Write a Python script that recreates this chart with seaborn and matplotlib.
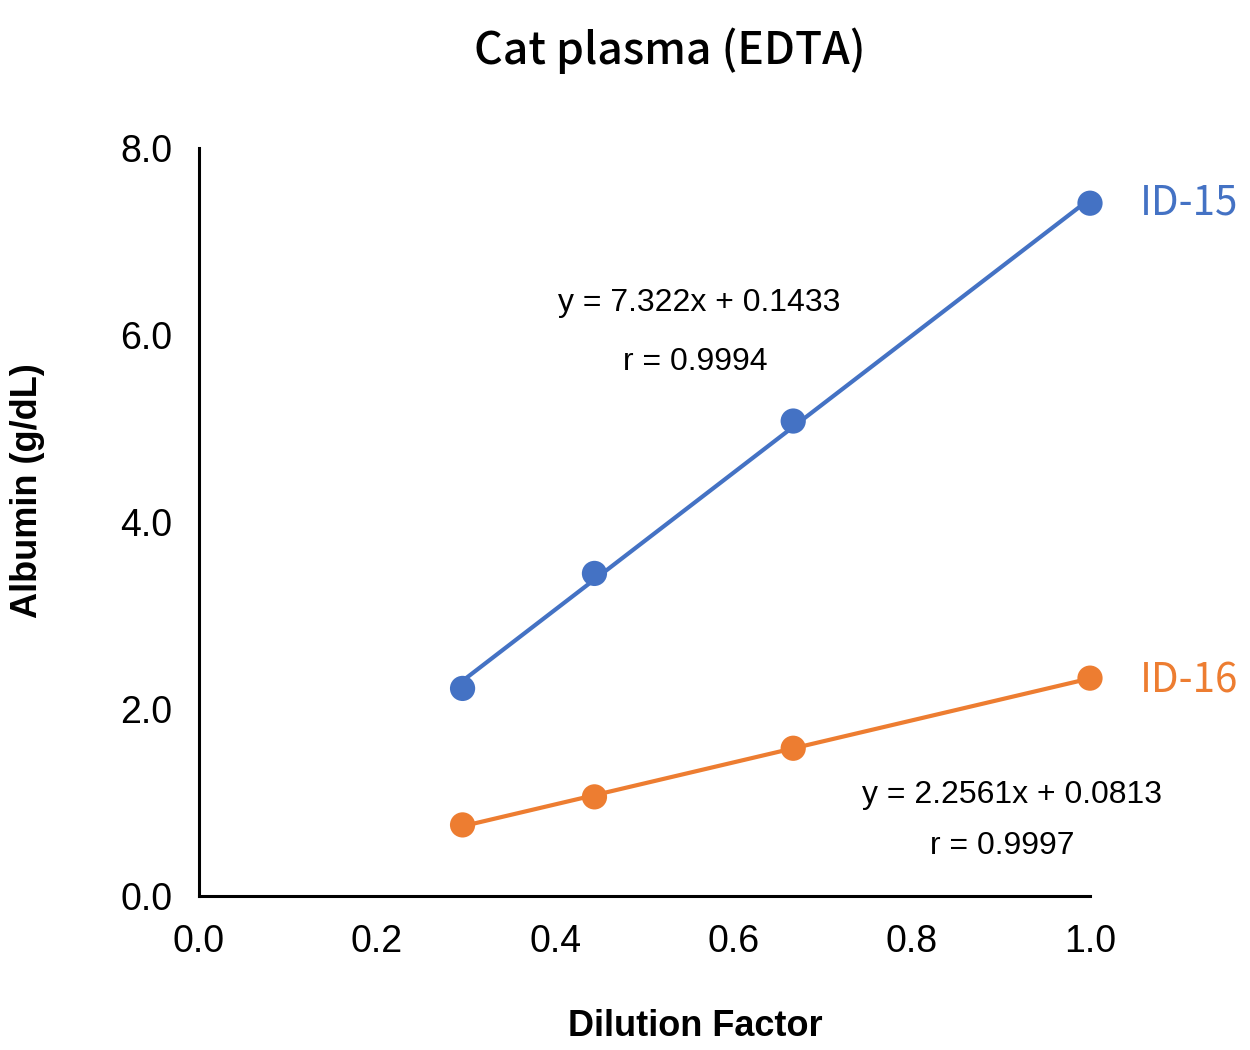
import numpy as np
import pandas as pd
import seaborn as sns
import matplotlib.pyplot as plt

# dilution factors and measured albumin (g/dL)
dilution = [0.296, 0.444, 0.667, 1.0]
id15 = [2.22, 3.45, 5.08, 7.41]
id16 = [0.76, 1.06, 1.58, 2.33]
samples = ['ID-15', 'ID-16']
equations = ['y = 7.322x + 0.1433', 'y = 2.2561x + 0.0813']
r_values = ['r = 0.9994', 'r = 0.9997']
x_ticks = [0.0, 0.2, 0.4, 0.6, 0.8, 1.0]
y_ticks = [0.0, 2.0, 4.0, 6.0, 8.0]

colors = {'ID-15': '#4472C4', 'ID-16': '#ED7D31'}

df = pd.DataFrame({
    'dilution': dilution * 2,
    'albumin': id15 + id16,
    'sample': ['ID-15'] * 4 + ['ID-16'] * 4,
})

sns.set_style('white')
plt.rcParams['font.family'] = ['Liberation Sans', 'DejaVu Sans']
plt.rcParams['text.color'] = 'black'
cjk = ['Noto Sans CJK JP', 'DejaVu Sans']

fig = plt.figure(figsize=(12.5, 10.5), dpi=100)
ax = fig.add_axes([0.159, 0.1467, 0.713, 0.7123])

# linear trendlines
for s in samples:
    d = df[df['sample'] == s]
    k, b = np.polyfit(d['dilution'], d['albumin'], 1)
    xs = np.array([d['dilution'].min(), d['dilution'].max()])
    ax.plot(xs, k * xs + b, color=colors[s], lw=3, zorder=2)

sns.scatterplot(data=df, x='dilution', y='albumin', hue='sample', palette=colors,
                s=330, edgecolor='none', legend=False, ax=ax, zorder=3)

ax.set_xlim(0, 1.0)
ax.set_ylim(0, 8.0)
ax.set_xticks(x_ticks)
ax.set_yticks(y_ticks)
ax.set_xticklabels([f'{t:.1f}' for t in x_ticks])
ax.set_yticklabels([f'{t:.1f}' for t in y_ticks])
ax.tick_params(axis='both', direction='out', length=8, width=2.2, labelsize=27,
               color='black', labelcolor='black')
ax.tick_params(axis='y', pad=11)
ax.tick_params(axis='x', pad=12)
ax.set_xlabel('')
ax.set_ylabel('')
for side in ['top', 'right']:
    ax.spines[side].set_visible(False)
for side in ['left', 'bottom']:
    ax.spines[side].set_color('black')
    ax.spines[side].set_linewidth(2.2)
for c in ax.collections:
    c.set_clip_on(False)

# equations
ax.text(0.562, 6.34, equations[0], ha='center', va='center', fontsize=23)
ax.text(0.557, 5.71, r_values[0], ha='center', va='center', fontsize=23)
ax.text(0.912, 1.08, equations[1], ha='center', va='center', fontsize=23)
ax.text(0.902, 0.535, r_values[1], ha='center', va='center', fontsize=23)

# series labels
ax.text(1.056, id15[-1], samples[0], color=colors['ID-15'], ha='left', va='center',
        fontsize=29, family=cjk, clip_on=False)
ax.text(1.056, id16[-1] - 0.03, samples[1], color=colors['ID-16'], ha='left', va='center',
        fontsize=29, family=cjk, clip_on=False)

fig.text(0.536, 0.952, 'Cat plasma (EDTA)', ha='center', va='center', fontsize=32,
         family=cjk, fontweight='medium')
fig.text(0.556, 0.022, 'Dilution Factor', ha='center', va='center', fontsize=26,
         fontweight='bold')
fig.text(0.022, 0.533, 'Albumin (g/dL)', ha='center', va='center', fontsize=26,
         fontweight='bold', rotation=90)

fig.savefig('out.png', dpi=100, facecolor='white')
